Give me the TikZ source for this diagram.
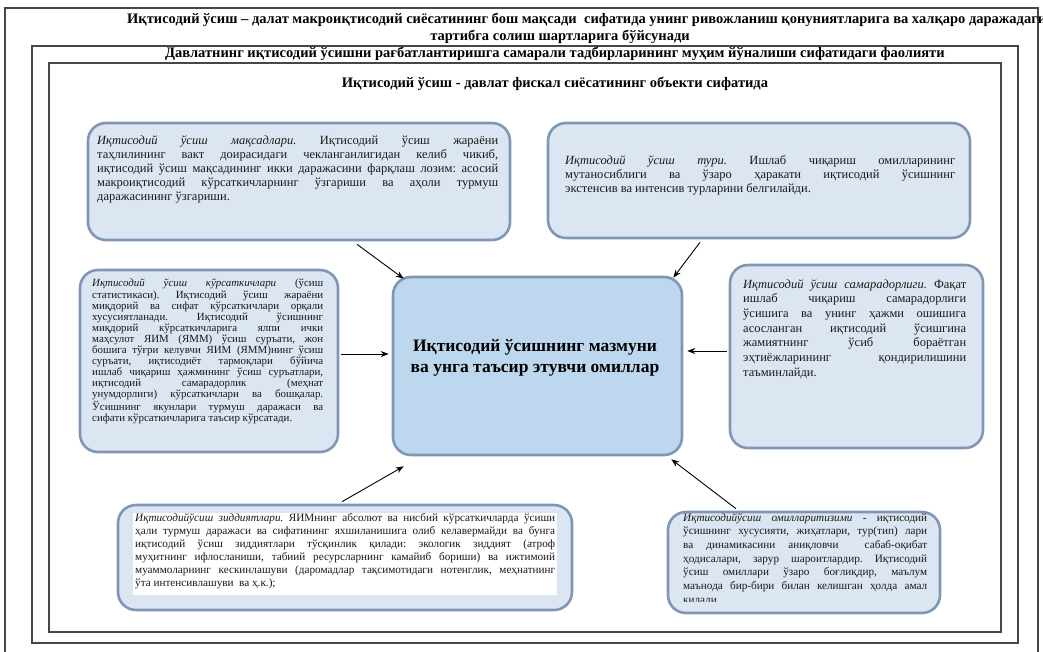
\documentclass[tikz,border=0pt]{standalone}
\usepackage{fontspec}
\setmainfont{Liberation Serif}
\usetikzlibrary{arrows.meta}
\definecolor{boxfill}{RGB}{220,230,242}
\definecolor{cenfill}{RGB}{189,215,238}
\definecolor{bordc}{RGB}{128,150,182}
\definecolor{framec}{RGB}{70,70,70}
\tolerance=9999
\hbadness=10000
\frenchspacing
\tikzset{
  bx/.style={draw=bordc, line width=2.6pt, fill=boxfill, rounded corners=18pt, inner sep=0pt},
  arr/.style={-{Stealth[length=8pt,width=6pt]}, line width=0.9pt, black},
  frm/.style={draw=framec, line width=1.1pt},
  ttl/.style={font=\bfseries\fontsize{14.5}{16}\selectfont, inner sep=0pt, text=black},
  txt/.style={anchor=north west, inner sep=0pt, align=justify, text=black!90},
}
\begin{document}
\begin{tikzpicture}[x=1pt,y=-1pt]
\useasboundingbox (0,0) rectangle (1043,651);
% frames
\draw[frm] (5,8) rectangle (1038,670);
\draw[frm] (32,46) rectangle (1018,643);
\draw[frm] (49,63) rectangle (1001,632);
% titles
\node[ttl, anchor=west] (t1) at (127,20) {Иқтисодий ўсиш – далат макроиқтисодий сиёсатининг бош мақсади\ \ сифатида унинг ривожланиш қонуниятларига ва халқаро даражадаги};
\node[ttl] (t2) at (560,37) {тартибга солиш шартларига бўйсунади};
\node[ttl] (t3) at (555,54) {Давлатнинг иқтисодий ўсишни рағбатлантиришга самарали тадбирларининг муҳим йўналиши сифатидаги фаолияти};
\node[ttl] (t4) at (555,84) {Иқтисодий ўсиш - давлат фискал сиёсатининг объекти сифатида};
% boxes
\node[bx, minimum width=422pt, minimum height=117pt] (b1) at (299,181.5) {};
\node[bx, minimum width=422pt, minimum height=115pt] (b2) at (759,180.5) {};
\node[bx, minimum width=258pt, minimum height=182pt] (b3) at (209,361) {};
\node[bx, minimum width=253pt, minimum height=183pt] (b4) at (856.5,356.5) {};
\node[bx, minimum width=454pt, minimum height=105pt] (b5) at (345,557.5) {};
\node[bx, minimum width=272pt, minimum height=101pt] (b6) at (804,562.5) {};
\node[bx, fill=cenfill, minimum width=289pt, minimum height=178pt] (c) at (537.5,366) {};
% box texts
\node[txt, text width=401pt, font=\fontsize{12.5}{14}\selectfont] (x1) at (97,135) {\textit{Иқтисодий ўсиш мақсадлари.} Иқтисодий ўсиш жараёни\linebreak таҳлилининг вакт доирасидаги чекланганлигидан келиб чикиб,\linebreak иқтисодий ўсиш мақсадининг икки даражасини фарқлаш лозим: асосий\linebreak макроиқтисодий кўрсаткичларнинг ўзгариши ва аҳоли турмуш\linebreak даражасининг ўзгариши.};
\node[txt, text width=390pt, font=\fontsize{12.5}{14}\selectfont] (x2) at (565,155) {\textit{Иқтисодий ўсиш тури.} Ишлаб чиқариш омилларининг\linebreak мутаносиблиги ва ўзаро ҳаракати иқтисодий ўсишнинг\linebreak экстенсив ва интенсив турларини белгилайди.};
\node[txt, text width=231pt, font=\fontsize{10.9}{11.1}\selectfont] (x3) at (92,279) {\textit{Иқтисодий ўсиш кўрсаткичлари} (ўсиш\linebreak статистикаси). Иқтисодий ўсиш жараёни\linebreak миқдорий ва сифат кўрсаткичлари орқали\linebreak хусусиятланади. Иқтисодий ўсишнинг\linebreak миқдорий кўрсаткичларига ялпи ички\linebreak маҳсулот ЯИМ (ЯММ) ўсиш суръати, жон\linebreak бошига тўғри келувчи ЯИМ (ЯММ)нинг ўсиш\linebreak суръати, иқтисодиёт тармоқлари бўйича\linebreak ишлаб чиқариш ҳажмининг ўсиш суръатлари,\linebreak иқтисодий самарадорлик (меҳнат\linebreak унумдорлиги) кўрсаткичлари ва бошқалар.\linebreak Ўсишнинг якунлари турмуш даражаси ва\linebreak сифати кўрсаткичларига таъсир кўрсатади.};
\node[txt, text width=223pt, font=\fontsize{12.5}{14.7}\selectfont] (x4) at (743,279) {\textit{Иқтисодий ўсиш самарадорлиги.} Фақат\linebreak ишлаб чиқариш самарадорлиги\linebreak ўсишига ва унинг ҳажми ошишига\linebreak асосланган иқтисодий ўсишгина\linebreak жамиятнинг ўсиб бораётган\linebreak эҳтиёжларининг қондирилишини\linebreak таъминлайди.};
\fill[white] (133,513) rectangle (557,595);
\node[txt, text width=420pt, font=\fontsize{11.2}{13}\selectfont] (x5) at (135,513) {\textit{Иқтисодийўсиш зиддиятлари.} ЯИМнинг абсолют ва нисбий кўрсаткичларда ўсиши\linebreak ҳали турмуш даражаси ва сифатининг яхшиланишига олиб келавермайди ва бунга\linebreak иқтисодий ўсиш зиддиятлари тўсқинлик қилади: экологик зиддият (атроф\linebreak муҳитнинг ифлосланиши, табиий ресурсларнинг камайиб бориши) ва ижтимоий\linebreak муаммоларнинг кескинлашуви (даромадлар тақсимотидаги нотенглик, меҳнатнинг\linebreak ўта интенсивлашуви\ \ ва ҳ.к.);};
\begin{scope}
\clip (670,505) rectangle (940,601);
\node[txt, text width=244pt, font=\fontsize{11.2}{13.7}\selectfont] (x6) at (683,513) {\textit{Иқтисодийўсиш омилларитизими} - иқтисодий\linebreak ўсишнинг хусусияти, жиҳатлари, тур(тип) лари\linebreak ва динамикасини аниқловчи\ \ сабаб-оқибат\linebreak ҳодисалари, зарур шароитлардир. Иқтисодий\linebreak ўсиш омиллари ўзаро боғлиқдир, маълум\linebreak маънода бир-бири билан келишган ҳолда амал\linebreak қилади};
\end{scope}
% centre text
\node[font=\bfseries\fontsize{17.5}{21}\selectfont, align=center, inner sep=0pt] (ct) at (535,357.5) {Иқтисодий ўсишнинг мазмуни\\ва унга таъсир этувчи омиллар};
% arrows
\draw[arr] ([xshift=58pt,yshift=-3pt]b1.south) -- ([xshift=12pt,yshift=-3pt]c.north west);
\draw[arr] ([xshift=-59pt,yshift=-3pt]b2.south) -- ([xshift=-10pt,yshift=-2pt]c.north east);
\draw[arr] ([xshift=2pt,yshift=7pt]b3.east) -- ([xshift=-3pt,yshift=12pt]c.west);
\draw[arr] ([xshift=-2pt,yshift=5.5pt]b4.west) -- ([xshift=4pt,yshift=15pt]c.east);
\draw[arr] ([xshift=-3pt,yshift=2pt]b5.north) -- ([xshift=12pt,yshift=-10pt]c.south west);
\draw[arr] ([xshift=-68pt,yshift=2pt]b6.north) -- ([xshift=-12pt,yshift=-3pt]c.south east);
\end{tikzpicture}
\end{document}
